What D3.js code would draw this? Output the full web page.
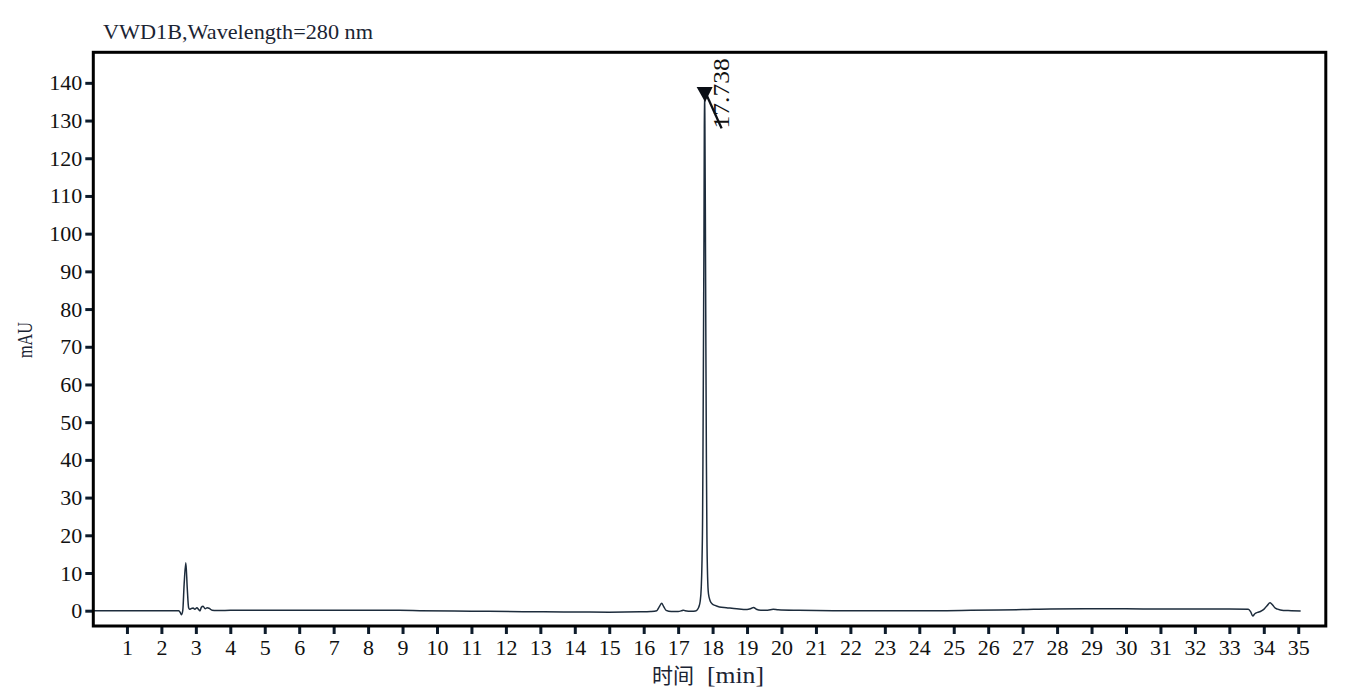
<!DOCTYPE html>
<html><head><meta charset="utf-8">
<script src="https://cdn.jsdelivr.net/npm/d3@7/dist/d3.min.js"></script>
<style>html,body{margin:0;padding:0;background:#fff;}svg{display:block;}</style>
</head><body>
<svg id="chart" width="1348" height="700"></svg>
<script>
// ---- data ----
const title = "VWD1B,Wavelength=280 nm";
const yLabel = "mAU";
const xLabelCJK = "时间";
const xLabelUnit = "[min]";
const xTicks = [1,2,3,4,5,6,7,8,9,10,11,12,13,14,15,16,17,18,19,20,21,22,23,24,25,26,27,28,29,30,31,32,33,34,35];
const yTicks = [0,10,20,30,40,50,60,70,80,90,100,110,120,130,140];
const times = [0,1.0,2.0,2.5,2.55,2.58,2.62,2.66,2.71,2.75,2.79,2.82,2.87,2.92,2.97,3.03,3.08,3.12,3.16,3.21,3.27,3.33,3.39,3.47,3.6,
  4.0,5.0,6.0,7.0,8.0,8.9,9.5,10.5,11.5,12.5,13.1,14.0,15.0,15.9,16.2,16.38,16.45,16.52,16.58,16.65,16.8,17.0,17.1,17.15,17.2,17.4,17.5,
  17.56,17.6,17.64,17.67,17.69,17.71,17.72,17.735,17.75,17.76,17.768,17.776,17.79,17.805,17.82,17.835,17.855,17.88,17.93,17.99,18.07,
  18.2,18.4,18.7,19.0,19.1,19.19,19.27,19.4,19.6,19.76,19.9,20.5,21.5,23,24.5,25.5,26.3,27.0,27.8,29,30,31,32,33,33.55,33.62,33.68,
  33.74,33.82,33.9,34.0,34.1,34.18,34.25,34.32,34.4,34.57,34.8,35.07];
const signal = [0,0,0,0,-0.5,-1.1,0,7,12.7,6,0.8,0.4,0.6,0.7,0.4,0.8,0.3,-0.05,0.9,1.2,0.5,0.8,0.6,0.1,0.05,
  0.1,0.15,0.15,0.15,0.15,0.1,0,-0.1,-0.15,-0.25,-0.3,-0.35,-0.4,-0.3,-0.2,0,1.0,1.95,1.1,0.1,-0.2,-0.2,0,0.15,0,-0.15,-0.1,
  0.3,1.0,2.5,6,12,25,40,70,100,128,138,130,105,70,40,20,9,4.5,2.6,1.8,1.4,
  1.0,0.8,0.5,0.3,0.5,0.85,0.4,0.15,0.15,0.4,0.25,0.1,0,0,0,0.1,0.2,0.3,0.45,0.5,0.5,0.45,0.45,0.45,0.4,-0.3,-1.4,
  -0.8,-0.45,-0.2,0.35,1.4,2.1,1.6,0.8,0.4,0.05,0,-0.1];
const peakTimes = [17.768];
const peakHeights = [138];
const peakLabels = ["17.738"];

// ---- layout ----
const svg = d3.select("#chart");
const L = 92.5, R = 1325.8, T = 52.3, B = 626;
const x = d3.scaleLinear().domain([0, 35.8]).range([L, R]);
const y = d3.scaleLinear().domain([-4.06, 148.1]).range([B, T]);
const tickColor = "#0e1c2c";
const textColor = "#111";
const serif = "'Liberation Serif','DejaVu Serif',serif";

// trace
const pts = times.map((t,i)=>[t, signal[i]]);
svg.append("path")
  .datum(pts)
  .attr("fill","none")
  .attr("stroke","#1d2c3c")
  .attr("stroke-width",1.5)
  .attr("d", d3.line().x(d=>x(d[0])).y(d=>y(d[1])).curve(d3.curveMonotoneX));

// axes
const xAxis = d3.axisBottom(x).tickValues(xTicks).tickSize(8).tickPadding(5).tickFormat(d3.format("d"));
const yAxis = d3.axisLeft(y).tickValues(yTicks).tickSize(8).tickPadding(3).tickFormat(d3.format("d"));
const gx = svg.append("g").attr("transform",`translate(0,${B})`).call(xAxis);
const gy = svg.append("g").attr("transform",`translate(${L+0.8},0)`).call(yAxis);
[gx,gy].forEach(g=>{
  g.select(".domain").remove();
  g.selectAll(".tick line").attr("stroke",tickColor).attr("stroke-width",3);
  g.selectAll(".tick text").attr("fill",textColor)
    .style("font-family",serif).style("font-size","22px");
});

// frame
svg.append("rect").attr("x",L+0.8).attr("y",T).attr("width",R-L-0.8).attr("height",B-T)
  .attr("fill","none").attr("stroke","#000").attr("stroke-width",3);

// peak markers
peakTimes.forEach((t,i)=>{
  const px = x(t), py = y(peakHeights[i]);
  svg.append("path")
    .attr("d",`M${px-8},${py-3.4}L${px+8},${py-3.4}L${px+0.5},${py+11.6}Z`)
    .attr("fill","#0b0f16");
  svg.append("line").attr("x1",px-1).attr("y1",py-2).attr("x2",px+17).attr("y2",py+38)
    .attr("stroke","#0b0f16").attr("stroke-width",2.4);
  svg.append("text")
    .attr("transform",`translate(${px+24.5},${py+38}) rotate(-90)`)
    .attr("text-anchor","start")
    .attr("textLength",70).attr("lengthAdjust","spacingAndGlyphs")
    .style("font-family",serif).style("font-size","23px")
    .attr("fill",textColor).text(peakLabels[i]);
});

// title
svg.append("text").attr("x",103).attr("y",39)
  .attr("textLength",270).attr("lengthAdjust","spacingAndGlyphs")
  .style("font-family",serif).style("font-size","22px")
  .attr("fill","#1b2433").text(title);

// y label
svg.append("text")
  .attr("transform","translate(32,340) rotate(-90)")
  .attr("text-anchor","middle")
  .attr("textLength",36).attr("lengthAdjust","spacingAndGlyphs")
  .style("font-family",serif).style("font-size","22px")
  .attr("fill","#1b2433").text(yLabel);

// x label
svg.append("text").attr("x",652).attr("y",683).attr("fill","#1b2433")
  .style("font-family","'Noto Sans CJK SC',sans-serif").style("font-size","21px").text(xLabelCJK);
svg.append("text").attr("x",707).attr("y",683).attr("fill","#1b2433")
  .attr("textLength",57).attr("lengthAdjust","spacingAndGlyphs")
  .style("font-family",serif).style("font-size","23px").text(xLabelUnit);
</script>
</body></html>
